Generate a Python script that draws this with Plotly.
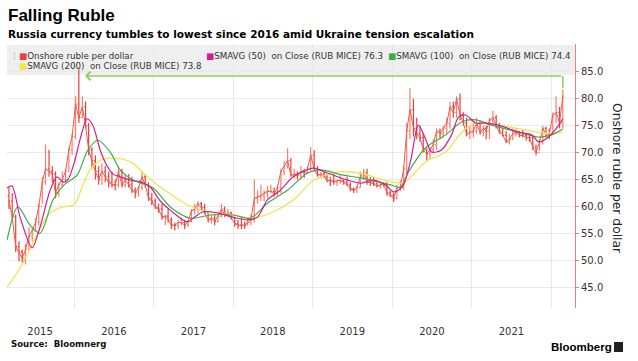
import plotly.graph_objects as go

# ---------------- data (semi-monthly OHLC of onshore USD/RUB) -------------
start_open = 62.0
close_2015 = [61.0, 58.0, 52.5, 51.5, 50.3, 52.0, 54.5, 55.5, 57.0, 60.0, 64.5, 67.0, 66.5, 66.0, 62.5, 64.0, 65.0, 66.5, 70.5, 73.0]
high_2015 = [63.5, 62.5, 58.5, 53.5, 52.0, 53.0, 56.2, 56.0, 57.8, 60.5, 65.5, 71.5, 70.5, 67.5, 66.5, 64.5, 66.5, 67.0, 71.0, 73.5]
low_2015 = [59.5, 57.5, 51.5, 49.8, 49.5, 49.2, 52.0, 53.5, 55.3, 56.5, 60.5, 64.0, 65.5, 64.5, 61.5, 61.8, 63.5, 64.5, 66.5, 69.5]

close_2016 = [79.0, 76.5, 78.5, 75.0, 70.5, 68.5, 66.5, 65.0, 66.5, 65.5, 64.5, 64.0, 64.0, 66.5, 64.0, 65.0, 64.0, 63.0, 62.5, 63.5, 65.5, 64.0, 61.5, 61.0]
high_2016 = [80.5, 85.5, 80.5, 79.5, 75.5, 71.0, 69.5, 67.5, 68.0, 67.5, 66.5, 66.5, 65.0, 67.5, 67.0, 66.0, 66.0, 65.5, 63.5, 63.8, 66.5, 66.0, 64.5, 62.5]
low_2016 = [72.5, 75.5, 76.5, 74.5, 69.5, 67.0, 65.0, 64.0, 64.0, 64.5, 63.5, 63.5, 63.0, 63.5, 63.5, 63.5, 63.5, 62.5, 61.5, 61.8, 63.0, 63.5, 61.0, 60.2]

close_2017 = [59.8, 59.5, 58.0, 58.2, 57.5, 56.5, 56.5, 57.0, 57.0, 56.5, 57.2, 59.2, 59.5, 60.5, 59.8, 58.8, 57.5, 57.8, 57.2, 58.2, 59.5, 58.5, 58.8, 57.8]
high_2017 = [61.5, 60.5, 60.5, 58.5, 59.5, 58.0, 57.0, 57.5, 58.0, 57.5, 57.5, 59.5, 60.5, 61.0, 60.8, 60.5, 58.8, 58.5, 58.5, 58.5, 60.5, 60.0, 59.5, 59.0]
low_2017 = [59.5, 58.8, 57.5, 56.5, 57.0, 55.8, 55.5, 55.8, 56.5, 55.8, 56.2, 57.0, 58.5, 58.8, 59.2, 58.5, 57.0, 56.8, 56.5, 57.0, 58.0, 58.0, 58.0, 57.5]

close_2018 = [56.8, 56.5, 56.5, 56.5, 57.0, 57.5, 61.5, 61.8, 62.0, 62.5, 62.8, 62.8, 62.3, 63.5, 66.5, 67.5, 68.5, 65.8, 66.0, 65.8, 66.5, 66.3, 67.0, 69.5]
high_2018 = [58.0, 57.5, 58.0, 57.2, 57.8, 58.5, 65.0, 63.0, 64.0, 63.0, 63.8, 64.0, 63.5, 63.8, 67.0, 68.5, 70.8, 69.0, 67.0, 66.5, 67.5, 67.0, 67.5, 71.0]
low_2018 = [56.2, 55.8, 55.8, 55.8, 56.5, 56.5, 57.0, 60.5, 61.0, 61.0, 61.5, 62.5, 61.8, 62.0, 62.5, 65.8, 67.0, 65.5, 65.3, 65.0, 65.0, 65.3, 66.0, 66.5]

close_2019 = [67.0, 65.8, 66.0, 65.5, 64.8, 64.8, 64.5, 64.8, 64.8, 64.5, 64.0, 63.2, 63.0, 63.5, 65.5, 66.3, 64.5, 64.5, 64.2, 63.8, 64.0, 64.2, 62.5, 62.0]
high_2019 = [70.5, 67.5, 66.5, 66.5, 66.0, 65.5, 66.0, 65.0, 65.8, 65.0, 65.5, 64.5, 63.5, 63.8, 66.5, 67.0, 67.0, 65.5, 65.5, 64.5, 64.5, 64.5, 64.5, 63.0]
low_2019 = [66.5, 65.5, 65.2, 65.3, 64.5, 63.8, 64.0, 63.8, 64.2, 64.0, 63.8, 62.8, 62.5, 62.5, 63.5, 65.0, 64.0, 63.8, 63.8, 63.5, 63.3, 63.5, 62.0, 61.8]

close_2020 = [61.5, 63.5, 63.5, 67.0, 74.0, 78.0, 74.5, 73.5, 72.8, 70.5, 69.8, 70.5, 71.5, 74.0, 73.5, 74.5, 75.5, 78.5, 77.5, 80.0, 77.0, 75.5, 73.5, 73.8]
high_2020 = [62.5, 64.0, 64.8, 67.5, 75.5, 82.0, 80.0, 76.5, 75.0, 73.5, 70.8, 71.0, 72.5, 74.5, 74.5, 75.0, 76.5, 79.5, 79.5, 80.5, 81.0, 77.5, 76.5, 75.0]
low_2020 = [60.8, 61.3, 62.8, 63.0, 66.0, 72.5, 73.0, 72.5, 72.0, 70.0, 68.5, 68.8, 70.0, 70.5, 72.5, 72.8, 73.5, 74.5, 76.5, 76.5, 76.0, 75.0, 73.0, 72.5]

close_2021 = [74.0, 75.5, 73.8, 74.5, 74.0, 76.0, 76.5, 75.0, 73.8, 73.2, 72.0, 72.5, 73.5, 73.8, 73.2, 73.2, 72.8, 72.8, 71.0, 70.0, 72.0, 74.5, 73.5, 73.5]
high_2021 = [75.5, 76.5, 76.0, 75.0, 75.0, 76.5, 77.8, 77.0, 75.5, 74.5, 74.0, 73.5, 74.5, 74.5, 74.0, 74.3, 73.5, 73.5, 73.0, 71.5, 72.5, 75.0, 74.8, 74.5]
low_2021 = [72.8, 73.5, 73.3, 73.0, 72.5, 72.5, 75.0, 74.5, 73.5, 73.0, 71.8, 71.5, 72.3, 73.0, 72.8, 72.8, 72.2, 72.0, 70.5, 69.5, 70.3, 71.5, 72.8, 72.5]

close_2022 = [77.0, 77.5, 75.5, 80.5]
high_2022 = [77.5, 80.5, 78.5, 81.8]
low_2022 = [73.5, 75.5, 74.5, 74.5]

# ---------------- moving averages ----------------
sma50_dates = ["2015-02-27", "2015-03-22", "2015-04-28", "2015-06-22", "2015-07-29", "2015-09-13", "2015-10-15",
               "2015-11-11", "2015-12-04", "2016-01-01", "2016-01-29", "2016-03-01", "2016-03-28", "2016-04-30",
               "2016-06-01", "2016-06-28", "2016-07-31", "2016-09-28", "2016-10-31", "2016-12-16", "2017-01-31",
               "2017-03-18", "2017-06-04", "2017-07-01", "2017-08-16", "2017-10-20", "2018-01-01", "2018-03-07",
               "2018-04-22", "2018-06-07", "2018-08-06", "2018-10-04", "2019-01-04", "2019-03-10", "2019-06-10",
               "2019-08-09", "2019-10-07", "2019-12-02", "2020-01-07", "2020-01-30", "2020-02-22", "2020-03-26",
               "2020-05-01", "2020-06-03", "2020-06-30", "2020-08-15", "2020-09-30", "2020-11-01", "2020-12-04",
               "2021-01-19", "2021-03-06", "2021-05-04", "2021-08-04", "2021-10-03", "2021-11-04", "2021-12-20",
               "2022-02-04", "2022-02-23"]
sma50_values = [63.4, 63.8, 58.0, 52.3, 56.2, 63.0, 65.5,
                64.5, 65.0, 68.0, 72.5, 76.3, 75.0, 70.5,
                67.5, 66.0, 65.5, 64.8, 64.6, 63.6, 61.0,
                59.3, 57.1, 57.8, 59.0, 58.8, 58.0, 57.5,
                58.0, 61.2, 63.0, 65.5, 67.1, 66.2, 64.9,
                64.3, 64.9, 64.0, 62.7, 63.0, 64.0, 68.5,
                75.1, 72.5, 70.1, 70.5, 73.3, 76.6, 77.0,
                75.5, 75.5, 75.1, 73.8, 73.3, 72.0, 72.9,
                75.1, 76.3]

sma100_dates = ["2015-02-27", "2015-04-18", "2015-06-13", "2015-07-29", "2015-09-26", "2015-11-16", "2016-01-15",
                "2016-03-05", "2016-04-20", "2016-06-15", "2016-07-31", "2016-09-28", "2016-12-29", "2017-03-18",
                "2017-06-18", "2017-09-18", "2018-01-01", "2018-03-21", "2018-06-07", "2018-09-07", "2018-12-08",
                "2019-02-06", "2019-05-22", "2019-08-09", "2019-12-25", "2020-02-09", "2020-03-16", "2020-06-03",
                "2020-09-03", "2020-11-15", "2021-01-19", "2021-04-02", "2021-08-04", "2021-11-04", "2022-01-03",
                "2022-02-23"]
sma100_values = [53.7, 59.9, 56.5, 55.0, 61.2, 64.0, 65.8,
                 70.5, 72.3, 70.1, 66.8, 64.9, 63.4, 59.9,
                 57.8, 58.4, 58.4, 57.8, 60.6, 63.0, 66.2,
                 66.8, 65.8, 65.3, 64.0, 63.6, 66.4, 70.9,
                 73.3, 75.7, 76.1, 75.1, 73.8, 72.9, 73.3,
                 74.4]

sma200_dates = ["2015-02-27", "2015-04-28", "2015-06-26", "2015-09-13", "2015-11-11", "2016-01-01", "2016-02-11",
                "2016-03-15", "2016-05-13", "2016-08-13", "2016-09-28", "2016-12-02", "2017-01-31", "2017-06-04",
                "2017-09-04", "2018-01-01", "2018-04-03", "2018-07-04", "2018-10-04", "2019-01-04", "2019-04-25",
                "2019-08-09", "2019-11-22", "2020-02-22", "2020-06-03", "2020-09-03", "2020-11-15", "2021-01-19",
                "2021-05-04", "2021-09-07", "2021-12-07", "2022-02-23"]
sma200_values = [45.0, 48.5, 53.2, 58.8, 59.9, 60.3, 64.0,
                 66.8, 68.8, 68.8, 68.0, 65.5, 63.6, 60.3,
                 59.0, 58.4, 57.8, 59.0, 61.2, 64.8, 66.4,
                 66.2, 64.9, 64.4, 68.3, 70.1, 73.8, 75.5,
                 75.1, 74.2, 73.6, 73.8]

# legend labels / last values
price_name = "Onshore ruble per dollar"
sma50_last, sma100_last, sma200_last = 76.3, 74.4, 73.8

# arrow annotation: from latest high back to the 2016 level
arrow_level = 84.25
arrow_tip_date = "2016-02-20"
arrow_end_date = "2022-02-23"
arrow_drop_to = 82.0

# axis ticks
year_labels = ["2015", "2016", "2017", "2018", "2019", "2020", "2021"]
year_label_dates = ["2015-07-29", "2016-07-02", "2017-07-02", "2018-07-02", "2019-07-02", "2020-07-02", "2021-07-02"]
year_starts = ["2016-01-01", "2017-01-01", "2018-01-01", "2019-01-01", "2020-01-01", "2021-01-01", "2022-01-01"]
y_ticks = [45, 50, 55, 60, 65, 70, 75, 80, 85]

# ---------------- assemble ----------------
close = close_2015 + close_2016 + close_2017 + close_2018 + close_2019 + close_2020 + close_2021 + close_2022
high = high_2015 + high_2016 + high_2017 + high_2018 + high_2019 + high_2020 + high_2021 + high_2022
low = low_2015 + low_2016 + low_2017 + low_2018 + low_2019 + low_2020 + low_2021 + low_2022
opens = [start_open] + close[:-1]

dates = []
for yr in range(2015, 2023):
    for mo in range(1, 13):
        if (yr == 2015 and mo < 3) or (yr == 2022 and mo > 2):
            continue
        dates.append(f"{yr}-{mo:02d}-08")
        dates.append(f"{yr}-{mo:02d}-23")

W, H = 638, 361
L, R, T, B = 7, 575, 44, 308


def px_x(x):
    return (x - L) / (R - L)


def px_y(y):
    return (B - y) / (B - T)


RED_UP = "#f4806a"
RED_DN = "#e9413b"
MAG = "#d61d94"
GRN = "#3fae4a"
YEL = "#efe64c"
AXIS_RED = "#ef7f7f"
GRID = "#e9e9e9"
ARROW_GRN = "#93cc5c"

fig = go.Figure()

fig.add_trace(go.Scatter(x=dates, y=close, mode="lines",
                         line=dict(color="#ee5a50", width=1), showlegend=False, hoverinfo="skip"))
fig.add_trace(go.Ohlc(
    x=dates, open=opens, high=high, low=low, close=close,
    increasing=dict(line=dict(color=RED_UP, width=1.2)),
    decreasing=dict(line=dict(color=RED_DN, width=1.2)),
    tickwidth=0.45, showlegend=False, hoverinfo="skip",
))
fig.add_trace(go.Scatter(x=sma200_dates, y=sma200_values, mode="lines",
                         line=dict(color=YEL, width=1.3, shape="spline", smoothing=0.8), showlegend=False))
fig.add_trace(go.Scatter(x=sma100_dates, y=sma100_values, mode="lines",
                         line=dict(color=GRN, width=1.2, shape="spline", smoothing=0.8), showlegend=False))
fig.add_trace(go.Scatter(x=sma50_dates, y=sma50_values, mode="lines",
                         line=dict(color=MAG, width=1.2, shape="spline", smoothing=0.8), showlegend=False))

# vertical part of the green arrow
fig.add_trace(go.Scatter(x=[arrow_end_date, arrow_end_date], y=[arrow_level, arrow_drop_to], mode="lines",
                         line=dict(color=ARROW_GRN, width=1.5), showlegend=False, hoverinfo="skip"))

annotations = []
# arrow
annotations.append(dict(x=arrow_tip_date, y=arrow_level, xref="x", yref="y",
                        ax=arrow_end_date, ay=arrow_level, axref="x", ayref="y",
                        text="", showarrow=True, arrowhead=4, arrowsize=1.1, arrowwidth=1.5,
                        arrowcolor=ARROW_GRN))

# title / subtitle
annotations.append(dict(x=px_x(6), y=px_y(15.5), xref="paper", yref="paper", xanchor="left", yanchor="middle",
                        text="<b>Falling Ruble</b>", showarrow=False,
                        font=dict(family="Liberation Sans", size=17, color="#000")))
annotations.append(dict(x=px_x(6), y=px_y(34), xref="paper", yref="paper", xanchor="left", yanchor="middle",
                        text="<b>Russia currency tumbles to lowest since 2016 amid Ukraine tension escalation</b>",
                        showarrow=False, font=dict(family="DejaVu Sans", size=10.5, color="#000")))

# legend
LEG_FONT = dict(family="DejaVu Sans", size=8.7, color="#333")
NB = "\u00a0"


def leg(x, y, color, label):
    annotations.append(dict(x=px_x(x), y=px_y(y), xref="paper", yref="paper", xanchor="left", yanchor="middle",
                            text=f"<span style='color:{color}'>■</span>{label}", showarrow=False, font=LEG_FONT))


annotations.append(dict(x=px_x(11), y=px_y(56), xref="paper", yref="paper", xanchor="left", yanchor="middle",
                        text="¦", showarrow=False, font=dict(family="DejaVu Sans", size=8, color="#aaa")))
leg(16.5, 56, RED_DN, price_name)
leg(203.5, 56, MAG, f"SMAVG (50){NB} on Close (RUB MICE) {sma50_last}")
leg(385.5, 56, GRN, f"SMAVG (100){NB} on Close (RUB MICE) {sma100_last}")
leg(16.5, 66, YEL, f"SMAVG (200){NB} on Close (RUB MICE) {sma200_last}")

# y-axis title (reads top to bottom)
annotations.append(dict(x=px_x(617), y=px_y(178), xref="paper", yref="paper", xanchor="center", yanchor="middle",
                        text="Onshore ruble per dollar", textangle=90, showarrow=False,
                        font=dict(family="DejaVu Sans", size=12.3, color="#222")))

# footer
annotations.append(dict(x=px_x(9), y=px_y(344), xref="paper", yref="paper", xanchor="left", yanchor="middle",
                        text=f"<b>Source:{NB} Bloomnerg</b>", showarrow=False,
                        font=dict(family="DejaVu Sans", size=8.6, color="#111")))
annotations.append(dict(x=px_x(549), y=px_y(347), xref="paper", yref="paper", xanchor="left", yanchor="middle",
                        text="<b>Bloomberg</b>", showarrow=False,
                        font=dict(family="Liberation Sans", size=11.5, color="#000")))

shapes = [
    # legend background
    dict(type="rect", xref="paper", yref="paper", x0=px_x(7), x1=px_x(575), y0=px_y(75), y1=px_y(45),
         fillcolor="rgba(236,236,236,0.85)", line=dict(width=0), layer="below"),
    # Bloomberg logo glyph
    dict(type="rect", xref="paper", yref="paper", x0=px_x(614), x1=px_x(623), y0=px_y(352), y1=px_y(342),
         fillcolor="#222", line=dict(width=0)),
]

fig.update_layout(
    width=W, height=H, autosize=False,
    margin=dict(l=L, r=W - R, t=T, b=H - B, autoexpand=False),
    paper_bgcolor="white", plot_bgcolor="rgba(0,0,0,0)",
    showlegend=False,
    annotations=annotations, shapes=shapes,
    xaxis=dict(
        type="date", range=["2015-02-27", "2022-04-20"],
        tickmode="array", tickvals=year_label_dates, ticktext=year_labels,
        ticks="outside", ticklen=14, tickcolor="rgba(0,0,0,0)",
        showgrid=False, zeroline=False, showline=False,
        minor=dict(tickmode="array", tickvals=year_starts, showgrid=True, gridcolor=GRID, gridwidth=1, ticks=""),
        rangeslider=dict(visible=False),
        tickfont=dict(family="DejaVu Sans", size=10, color="#333"),
    ),
    yaxis=dict(
        side="right", range=[41.1, 90.2],
        tickmode="array", tickvals=y_ticks, ticktext=[f"{v:.1f}" for v in y_ticks],
        showgrid=True, gridcolor=GRID, gridwidth=1, zeroline=False,
        showline=True, linecolor=AXIS_RED, linewidth=1,
        ticks="outside", ticklen=3, tickcolor=AXIS_RED,
        tickfont=dict(family="DejaVu Sans", size=10, color="#333"),
    ),
    hovermode=False,
)

fig.write_html("out.html", config={"displayModeBar": False},
               post_script="document.body.style.margin='0px';")
